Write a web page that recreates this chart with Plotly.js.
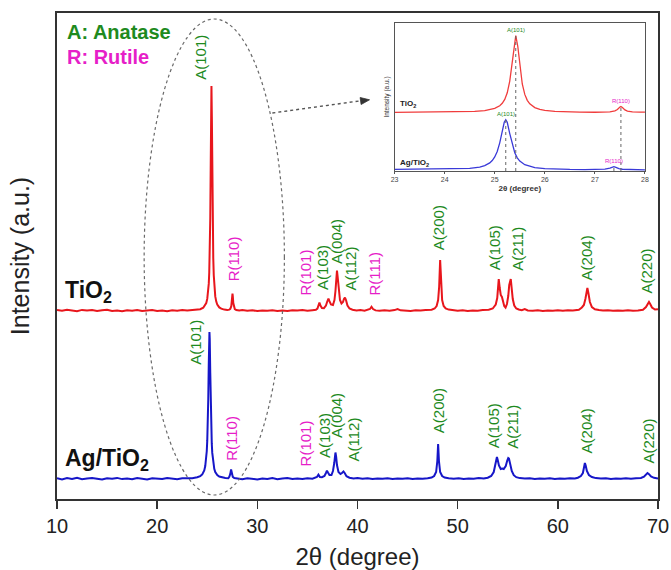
<!DOCTYPE html>
<html>
<head>
<meta charset="utf-8">
<script src="https://cdn.plot.ly/plotly-3.0.1.min.js"></script>
<style>
  html, body { margin: 0; padding: 0; background: #ffffff; }
  #chart { width: 671px; height: 570px; }
</style>
</head>
<body>
<div id="chart"></div>
<script>
// XRD pattern of pure TiO2: [2θ (deg), intensity (a.u.)]
const tio2Pattern = [
  [10.0,21.0],[10.5,20.2],[11.0,21.3],[11.5,20.5],[12.0,19.8],[12.5,21.1],[13.0,20.4],[13.5,20.9],
  [14.0,19.9],[14.5,20.7],[15.0,21.2],[15.5,20.1],[16.0,20.6],[16.5,19.7],[17.0,20.8],[17.5,20.3],
  [18.0,21.0],[18.5,19.9],[19.0,20.5],[19.5,20.9],[20.0,20.0],[20.5,20.6],[21.0,19.8],[21.5,20.7],
  [22.0,20.3],[22.5,20.9],[23.0,20.4],[23.5,20.8],[24.0,21.1],[24.3,21.8],[24.6,23.3],[24.8,25.7],
  [24.9,28.0],[25.0,32.1],[25.1,40.0],[25.15,47.1],[25.2,58.5],[25.25,77.8],[25.3,112.2],[25.35,171],
  [25.38,214],[25.42,245],[25.46,214],[25.5,157],[25.55,103.6],[25.6,73.1],[25.65,55.8],[25.7,45.5],
  [25.8,34.6],[25.9,29.4],[26.0,26.5],[26.2,23.6],[26.4,22.3],[26.7,21.4],[27.0,20.9],[27.2,21.4],
  [27.3,22.1],[27.4,24.8],[27.45,29.0],[27.5,36.2],[27.52,37.5],[27.55,34.9],[27.6,27.9],[27.65,24.3],
  [27.75,21.9],[27.9,21.0],[28.2,20.5],[28.5,20.9],[29.0,20.2],[29.5,20.7],[30.0,19.9],[30.5,20.6],
  [31.0,20.3],[31.5,20.8],[32.0,20.1],[32.5,20.6],[33.0,20.0],[33.5,20.7],[34.0,20.4],[34.5,20.9],
  [35.0,20.3],[35.5,20.8],[35.85,21.2],[36.0,22.4],[36.1,24.8],[36.2,28.5],[36.3,25.5],[36.45,23.0],
  [36.65,22.8],[36.85,25.5],[36.98,29.5],[37.1,32.5],[37.2,29.8],[37.35,26.5],[37.55,26.0],[37.7,31.0],
  [37.8,40.0],[37.88,54.0],[37.95,60.5],[38.02,54.0],[38.1,43.0],[38.25,31.0],[38.4,27.5],[38.55,29.0],
  [38.65,32.0],[38.75,33.5],[38.85,31.0],[39.0,25.5],[39.2,22.5],[39.5,21.3],[39.9,20.6],[40.3,20.9],
  [40.7,20.3],[41.0,20.9],[41.25,22.0],[41.4,24.2],[41.55,22.0],[41.8,20.6],[42.2,20.2],[42.7,20.8],
  [43.2,20.3],[43.7,20.9],[44.0,22.0],[44.3,20.7],[44.8,20.5],[45.3,20.1],[45.8,20.7],[46.3,20.4],
  [46.8,20.9],[47.4,21.3],[47.7,22.5],[47.9,25.0],[48.05,31.0],[48.15,44.0],[48.25,71.0],[48.35,44.0],
  [48.45,31.0],[48.6,25.0],[48.8,22.5],[49.1,21.4],[49.5,20.8],[50.0,20.3],[50.5,20.7],[51.0,20.1],
  [51.5,20.6],[52.0,20.3],[52.5,20.9],[53.1,21.2],[53.5,22.5],[53.8,26.5],[53.95,33.0],[54.03,43.0],
  [54.1,52.0],[54.2,43.0],[54.3,36.0],[54.42,34.0],[54.52,31.0],[54.65,25.0],[54.78,23.5],[54.92,27.0],
  [55.05,35.0],[55.15,46.0],[55.3,52.0],[55.4,43.0],[55.5,32.0],[55.65,25.5],[55.85,22.5],[56.1,21.5],
  [56.4,20.8],[56.7,22.0],[57.0,20.6],[57.5,20.2],[58.0,20.7],[58.5,20.1],[59.0,20.6],[59.5,20.3],
  [60.0,20.8],[60.5,20.2],[61.0,20.7],[61.5,20.4],[62.1,21.3],[62.4,23.5],[62.6,26.0],[62.75,32.0],
  [62.85,40.0],[62.95,43.0],[63.05,38.0],[63.2,29.0],[63.4,24.0],[63.7,21.8],[64.1,20.9],[64.5,20.4],
  [65.0,20.8],[65.5,20.2],[66.0,20.6],[66.5,20.3],[67.0,20.8],[67.5,20.2],[68.0,20.6],[68.5,21.3],
  [68.8,24.0],[68.98,27.5],[69.1,29.0],[69.22,27.0],[69.4,23.5],[69.7,21.5],[70.0,21.8]
];

// XRD pattern of Ag/TiO2: [2θ (deg), intensity (a.u.)]
const agTio2Pattern = [
  [10.0,20.8],[10.5,19.6],[11.0,20.9],[11.5,20.1],[12.0,21.2],[12.5,19.8],[13.0,20.5],[13.5,21.0],
  [14.0,20.2],[14.5,19.5],[15.0,20.8],[15.5,20.3],[16.0,21.1],[16.5,19.9],[17.0,20.6],[17.5,19.7],
  [18.0,20.9],[18.5,20.2],[19.0,19.6],[19.5,20.8],[20.0,20.4],[20.5,19.9],[21.0,21.0],[21.5,20.3],
  [22.0,19.8],[22.5,20.7],[23.0,20.5],[23.5,20.8],[24.0,21.7],[24.3,22.9],[24.5,24.6],[24.7,28.6],
  [24.8,32.9],[24.9,40.8],[24.95,47.7],[25.0,58.1],[25.05,74.2],[25.1,99.4],[25.15,134],[25.19,159.6],
  [25.22,167],[25.25,159.6],[25.3,126.6],[25.35,93.5],[25.4,70.4],[25.45,55.6],[25.5,46.1],[25.6,35.4],
  [25.7,30.1],[25.8,27.0],[26.0,24.0],[26.2,22.5],[26.5,21.5],[26.8,21.0],[27.1,20.7],[27.2,22.2],
  [27.3,25.1],[27.35,28.5],[27.38,29.6],[27.42,27.8],[27.48,24.0],[27.55,22.1],[27.7,21.0],[28.0,20.5],
  [28.5,19.8],[29.0,20.7],[29.5,20.1],[30.0,19.6],[30.5,20.6],[31.0,20.0],[31.5,20.9],[32.0,19.8],
  [32.5,20.4],[33.0,20.9],[33.5,19.9],[34.0,20.5],[34.5,20.1],[35.0,20.8],[35.5,20.3],[35.8,21.0],
  [35.95,22.0],[36.1,24.3],[36.25,22.0],[36.45,21.8],[36.7,23.0],[36.85,26.0],[36.95,28.3],[37.05,26.5],
  [37.2,24.0],[37.4,24.0],[37.55,28.0],[37.68,36.0],[37.75,42.0],[37.8,46.5],[37.87,42.0],[37.95,34.0],
  [38.1,27.0],[38.3,25.0],[38.45,26.0],[38.6,27.5],[38.72,26.0],[38.9,22.8],[39.2,21.3],[39.6,20.5],
  [40.0,20.9],[40.5,20.2],[41.0,20.7],[41.5,20.0],[42.0,20.6],[42.5,20.2],[43.0,20.8],[43.5,20.1],
  [44.0,20.6],[44.5,20.3],[45.0,20.8],[45.5,19.9],[46.0,20.5],[46.5,20.2],[47.0,20.7],[47.4,21.4],
  [47.65,23.0],[47.85,27.0],[47.97,38.0],[48.05,55.0],[48.13,38.0],[48.25,27.0],[48.45,23.0],[48.7,21.5],
  [49.1,20.7],[49.6,20.2],[50.1,20.8],[50.6,20.0],[51.1,20.6],[51.6,20.3],[52.1,20.9],[52.6,20.4],
  [53.0,21.3],[53.35,23.0],[53.6,27.0],[53.75,33.0],[53.85,40.0],[53.92,42.0],[54.0,39.0],[54.12,33.5],
  [54.3,30.0],[54.45,30.5],[54.6,30.0],[54.8,33.0],[54.95,38.5],[55.05,41.0],[55.12,40.5],[55.25,35.0],
  [55.4,28.0],[55.6,23.8],[55.85,21.8],[56.2,20.9],[56.7,20.4],[57.2,20.8],[57.7,20.1],[58.2,20.6],
  [58.7,20.2],[59.2,20.7],[59.7,20.0],[60.2,20.5],[60.7,20.2],[61.2,20.8],[61.7,20.6],[62.0,21.3],
  [62.3,23.0],[62.5,26.0],[62.62,32.0],[62.7,36.0],[62.78,33.5],[62.9,28.0],[63.1,24.0],[63.4,22.0],
  [63.8,20.9],[64.3,20.4],[64.8,20.8],[65.3,20.1],[65.8,20.6],[66.3,20.2],[66.8,20.7],[67.3,20.3],
  [67.8,20.8],[68.3,21.0],[68.6,22.3],[68.8,24.5],[68.95,26.0],[69.1,24.8],[69.3,22.5],[69.6,21.2],
  [70.0,20.6]
];

// Reflection labels (A = anatase, R = rutile)
const tio2Labels = ['A(101)','R(110)','R(101)','A(103)','A(004)','A(112)','R(111)','A(200)','A(105)','A(211)','A(204)','A(220)'];
const agTio2Labels = ['A(101)','R(110)','R(101)','A(103)','A(004)','A(112)','A(200)','A(105)','A(211)','A(204)','A(220)'];

// Peaks marked in the zoomed 23–28° panel
const insetPeaks = [
  { sample: 'tio2', name: 'A(101)', theta: 25.42 },
  { sample: 'tio2', name: 'R(110)', theta: 27.52 },
  { sample: 'ag',   name: 'A(101)', theta: 25.22 },
  { sample: 'ag',   name: 'R(110)', theta: 27.38 }
];

const xTicks = [10, 20, 30, 40, 50, 60, 70];
const insetTicks = [23, 24, 25, 26, 27, 28];

// ---- layout / styling ----
const STACK_OFFSET = 168;          // vertical shift of the TiO2 pattern
const FONT = '"Liberation Sans", Arial, sans-serif';
const RED = '#e8161c', BLUE = '#1616c8';
const GREEN = '#1e8a1e', MAGENTA = '#e61ec8';

// label anchor points [2θ, plotted a.u.] (bottom centre of the rotated text)
const tio2LabelAt = [[24.3,417],[27.65,216],[34.8,202],[36.5,207],[37.9,233],[39.3,207],[41.6,201],[48.1,247],[53.7,227],[55.9,226],[62.9,217],[68.9,204]];
const agTio2LabelAt = [[23.8,132],[27.4,36],[34.8,31],[36.7,39],[37.9,59],[39.6,36],[48.1,64],[53.6,49],[55.4,48],[62.9,44],[69.1,34]];

const tio2X = tio2Pattern.map(p => p[0]);
const tio2Y = tio2Pattern.map(p => p[1] + STACK_OFFSET);
const agX = agTio2Pattern.map(p => p[0]);
const agY = agTio2Pattern.map(p => p[1]);

function peakTop(xs, ys, theta) {
  let best = -Infinity;
  xs.forEach((x, i) => { if (Math.abs(x - theta) <= 0.06 && ys[i] > best) best = ys[i]; });
  return best;
}

const traces = [
  { x: tio2X, y: tio2Y, type: 'scatter', mode: 'lines', name: 'TiO2',
    line: { color: RED, width: 2 }, xaxis: 'x', yaxis: 'y', hoverinfo: 'skip' },
  { x: agX, y: agY, type: 'scatter', mode: 'lines', name: 'Ag/TiO2',
    line: { color: BLUE, width: 2 }, xaxis: 'x', yaxis: 'y', hoverinfo: 'skip' },
  { x: tio2X, y: tio2Y, type: 'scatter', mode: 'lines', name: 'TiO2 zoom',
    line: { color: '#f03c3c', width: 1.3 }, xaxis: 'x2', yaxis: 'y2', hoverinfo: 'skip' },
  { x: agX, y: agY, type: 'scatter', mode: 'lines', name: 'Ag/TiO2 zoom',
    line: { color: '#3a3ad8', width: 1.3 }, xaxis: 'x2', yaxis: 'y2', hoverinfo: 'skip' }
];

const annotations = [];
function peakLabel(text, at) {
  annotations.push({
    x: at[0], y: at[1], xref: 'x', yref: 'y', text: text, showarrow: false,
    textangle: -90, xanchor: 'center', yanchor: 'bottom',
    font: { family: FONT, size: 15, color: text[0] === 'A' ? GREEN : MAGENTA }
  });
}
tio2Labels.forEach((t, i) => peakLabel(t, tio2LabelAt[i]));
agTio2Labels.forEach((t, i) => peakLabel(t, agTio2LabelAt[i]));

// phase key and sample names
annotations.push(
  { xref: 'paper', yref: 'paper', x: 0.0133, y: 0.961, xanchor: 'left', yanchor: 'middle', showarrow: false,
    text: '<b>A: Anatase</b>', font: { family: FONT, size: 20, color: GREEN } },
  { xref: 'paper', yref: 'paper', x: 0.0133, y: 0.909, xanchor: 'left', yanchor: 'middle', showarrow: false,
    text: '<b>R: Rutile</b>', font: { family: FONT, size: 20, color: MAGENTA } },
  { xref: 'paper', yref: 'paper', x: 0.01, y: 0.426, xanchor: 'left', yanchor: 'middle', showarrow: false,
    text: '<b>TiO<sub>2</sub></b>', font: { family: FONT, size: 23, color: '#111' } },
  { xref: 'paper', yref: 'paper', x: 0.01, y: 0.0823, xanchor: 'left', yanchor: 'middle', showarrow: false,
    text: '<b>Ag/TiO<sub>2</sub></b>', font: { family: FONT, size: 23, color: '#111' } },
  { xref: 'paper', yref: 'paper', x: 0.5667, y: 0.8128, xanchor: 'left', yanchor: 'middle', showarrow: false,
    text: '<b>TiO<sub>2</sub></b>', font: { family: FONT, size: 8, color: '#222' } },
  { xref: 'paper', yref: 'paper', x: 0.5667, y: 0.6914, xanchor: 'left', yanchor: 'middle', showarrow: false,
    text: '<b>Ag/TiO<sub>2</sub></b>', font: { family: FONT, size: 8, color: '#222' } }
);

const shapes = [
  // highlighted region around the A(101) reflections
  { type: 'circle', xref: 'x', yref: 'y', x0: 18.7, x1: 32.7, y0: 4, y1: 480,
    line: { color: '#6a6a6a', width: 1.2, dash: 'dot' } },
  // dotted pointer towards the zoom panel
  { type: 'line', xref: 'x', yref: 'y', x0: 31.5, y0: 386, x1: 40.3, y1: 398.2,
    line: { color: '#555', width: 1.4, dash: 'dot' } },
  // arrowhead, sized in pixels around its tip
  { type: 'path', xref: 'x', yref: 'y', xsizemode: 'pixel', ysizemode: 'pixel', xanchor: 41.2, yanchor: 399.2,
    path: 'M0,0 L-9.4,2.3 L-8.4,-4.7 Z', fillcolor: '#333', line: { color: '#333', width: 0.8 } }
];

// dotted markers and tiny labels inside the zoom panel
insetPeaks.forEach(p => {
  const top = p.sample === 'tio2' ? peakTop(tio2X, tio2Y, p.theta) : peakTop(agX, agY, p.theta);
  shapes.push({ type: 'line', xref: 'x2', yref: 'y2', x0: p.theta, x1: p.theta, y0: 17, y1: top,
    line: { color: '#666', width: 1, dash: 'dot' } });
  annotations.push({ xref: 'x2', yref: 'y2', x: p.theta, y: top, yshift: 1, xanchor: 'center', yanchor: 'bottom',
    showarrow: false, text: p.name,
    font: { family: FONT, size: 6, color: p.name[0] === 'A' ? GREEN : MAGENTA } });
});

const layout = {
  width: 671, height: 570,
  margin: { l: 57, r: 13, t: 13, b: 71 },
  paper_bgcolor: '#ffffff', plot_bgcolor: '#ffffff',
  showlegend: false,
  font: { family: FONT, color: '#222' },
  xaxis: {
    range: [10, 70], tickvals: xTicks, ticks: 'outside', ticklen: 8, tickwidth: 1.5, tickcolor: '#333',
    showline: true, linecolor: '#333', linewidth: 2, mirror: true, showgrid: false, zeroline: false,
    tickfont: { family: FONT, size: 20, color: '#222' },
    title: { text: '2θ (degree)', font: { family: FONT, size: 24, color: '#222' }, standoff: 14 }
  },
  yaxis: {
    range: [0, 486], showticklabels: false, ticks: '', showline: true, linecolor: '#333', linewidth: 2,
    mirror: true, showgrid: false, zeroline: false,
    title: { text: 'Intensity (a.u.)', font: { family: FONT, size: 25, color: '#222' }, standoff: 18 }
  },
  xaxis2: {
    domain: [0.5617, 0.9783], anchor: 'y2', range: [23, 28], tickvals: insetTicks,
    ticks: 'outside', ticklen: 2, tickwidth: 1, tickcolor: '#555',
    showline: true, linecolor: '#555', linewidth: 1, mirror: true, showgrid: false, zeroline: false,
    tickfont: { family: FONT, size: 7, color: '#444' },
    title: { text: '<b>2θ (degree)</b>', font: { family: FONT, size: 8, color: '#333' }, standoff: 3 }
  },
  yaxis2: {
    domain: [0.6749, 0.9794], anchor: 'x2', range: [17, 450], showticklabels: false, ticks: '',
    showline: true, linecolor: '#555', linewidth: 1, mirror: true, showgrid: false, zeroline: false,
    title: { text: 'Intensity (a.u.)', font: { family: FONT, size: 6.5, color: '#333' }, standoff: 3 }
  },
  annotations: annotations,
  shapes: shapes
};

Plotly.newPlot('chart', traces, layout, { displayModeBar: false, staticPlot: true });
</script>
</body>
</html>
